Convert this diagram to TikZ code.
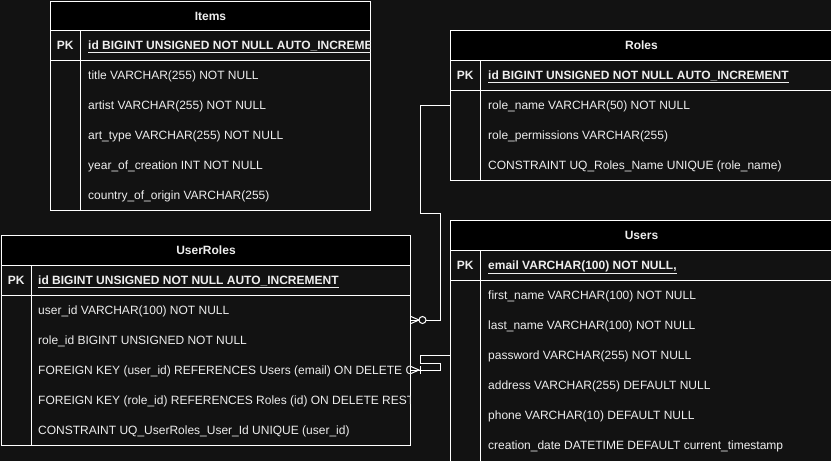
\documentclass[tikz,border=0pt]{standalone}
\usepackage{fontspec}
\setmainfont{Liberation Sans}
\usepackage{xcolor}
\usetikzlibrary{
    calc,
    positioning
}
\definecolor{canvas}{HTML}{121212}
\definecolor{ink}{HTML}{EEEEEE}
\newcommand{\cellfont}{\fontsize{12}{14}\selectfont}
\tikzset{
    tbl/.style={draw=white, line width=1pt, fill=canvas, anchor=north west, inner sep=0pt},
    hdr/.style={draw=white, line width=1pt, fill=black, anchor=north west, inner sep=0pt,
        minimum height=30pt, text=ink, font=\cellfont\bfseries},
    keyrow/.style={draw=white, line width=1pt, anchor=north west, inner sep=0pt, minimum height=30pt},
    pkcell/.style={anchor=north west, inner sep=0pt, minimum width=30pt, minimum height=30pt,
        text=ink, font=\cellfont\bfseries},
    fld/.style={anchor=west, inner sep=0pt, text height=11pt, text depth=2.5pt, text=ink, font=\cellfont},
    pk/.style={fld, font=\cellfont\bfseries},
    link/.style={draw=white, line width=1pt}
}

\begin{document}
\begin{tikzpicture}[x=1pt, y=-1pt]
    \useasboundingbox (0,0) rectangle (831,461);
    \fill[canvas] (0,0) rectangle (831,461);
    \clip (0,0) rectangle (831,461);

    % Items
    \node[tbl, minimum width=320pt, minimum height=209pt] (items) at (50,1) {};
    \node[hdr, minimum width=320pt, minimum height=29pt] (items-h) at (50,1) {Items};
    \node[keyrow, minimum width=320pt] (items-k) at (50,30) {};
    \node[pkcell] (items-pk) at (50,30) {PK};
    \draw[link] (items-pk.north east) -- (items-pk.north east |- items.south);
    \begin{scope}
        \clip (items.north west) rectangle ([xshift=-0.5pt]items.south east);
        \node[pk] (items-0) at (88,45) {\underline{id BIGINT UNSIGNED NOT NULL AUTO\_INCREMENT}};
        \foreach \f [count=\i] in {title VARCHAR(255) NOT NULL, artist VARCHAR(255) NOT NULL,
            art\_type VARCHAR(255) NOT NULL, year\_of\_creation INT NOT NULL,
            country\_of\_origin VARCHAR(255)}
            \node[fld] (items-\i) at (88,45+30*\i) {\f};
    \end{scope}

    % Roles
    \node[tbl, minimum width=382pt, minimum height=150pt] (roles) at (450,30) {};
    \node[hdr, minimum width=382pt] (roles-h) at (450,30) {Roles};
    \node[keyrow, minimum width=382pt] (roles-k) at (450,60) {};
    \node[pkcell] (roles-pk) at (450,60) {PK};
    \draw[link] (roles-pk.north east) -- (roles-pk.north east |- roles.south);
    \node[pk] (roles-0) at (488,75) {\underline{id BIGINT UNSIGNED NOT NULL AUTO\_INCREMENT}};
    \foreach \f [count=\i] in {role\_name VARCHAR(50) NOT NULL, role\_permissions VARCHAR(255),
        CONSTRAINT UQ\_Roles\_Name UNIQUE (role\_name)}
        \node[fld] (roles-\i) at (488,75+30*\i) {\f};

    % Users
    \node[tbl, minimum width=382pt, minimum height=245pt] (users) at (450,220) {};
    \node[hdr, minimum width=382pt] (users-h) at (450,220) {Users};
    \node[keyrow, minimum width=382pt] (users-k) at (450,250) {};
    \node[pkcell] (users-pk) at (450,250) {PK};
    \draw[link] (users-pk.north east) -- (users-pk.north east |- users.south);
    \node[pk] (users-0) at (488,265) {\underline{email VARCHAR(100) NOT NULL,}};
    \foreach \f [count=\i] in {first\_name VARCHAR(100) NOT NULL, last\_name VARCHAR(100) NOT NULL,
        password VARCHAR(255) NOT NULL, address VARCHAR(255) DEFAULT NULL,
        phone VARCHAR(10) DEFAULT NULL, creation\_date DATETIME DEFAULT current\_timestamp}
        \node[fld] (users-\i) at (488,265+30*\i) {\f};

    % UserRoles
    \node[tbl, minimum width=409pt, minimum height=210pt] (urs) at (1,235) {};
    \node[hdr, minimum width=409pt] (urs-h) at (1,235) {UserRoles};
    \node[keyrow, minimum width=409pt] (urs-k) at (1,265) {};
    \node[pkcell] (urs-pk) at (1,265) {PK};
    \draw[link] (urs-pk.north east) -- (urs-pk.north east |- urs.south);
    \begin{scope}
        \clip (urs.north west) rectangle ([xshift=-0.5pt]urs.south east);
        \node[pk] (urs-0) at (38,280) {\underline{id BIGINT UNSIGNED NOT NULL AUTO\_INCREMENT}};
        \foreach \f [count=\i] in {user\_id VARCHAR(100) NOT NULL, role\_id BIGINT UNSIGNED NOT NULL,
            FOREIGN KEY (user\_id) REFERENCES Users (email) ON DELETE CASCADE,
            FOREIGN KEY (role\_id) REFERENCES Roles (id) ON DELETE RESTRICT,
            CONSTRAINT UQ\_UserRoles\_User\_Id UNIQUE (user\_id)}
            \node[fld] (urs-\i) at (38,280+30*\i) {\f};
    \end{scope}

    % links
    \coordinate (e1) at ($(urs.east |- urs-1.west)+(0,10)$);
    \coordinate (e2) at (urs.east |- urs-3.west);

    \draw[link] (roles.west |- roles-1.west) -- ++(-30,0) -- ++(0,108) -- ++(20,0) |- (e1);
    \draw[link] ($(e1)+(0,-3.5)$) -- ($(e1)+(8,0)$) -- ($(e1)+(0,3.5)$);
    \draw[link, fill=canvas] ($(e1)+(11.5,0)$) circle (3.5pt);

    \draw[link] (users.west |- users-3.west) -- ++(-30,0) -- ++(0,8) -- ++(20,0) |- (e2);
    \draw[link] ($(e2)+(0,-3.5)$) -- ($(e2)+(8,0)$) -- ($(e2)+(0,3.5)$);
    \draw[link] ($(e2)+(9.5,-4)$) -- ($(e2)+(9.5,4)$);
\end{tikzpicture}
\end{document}
